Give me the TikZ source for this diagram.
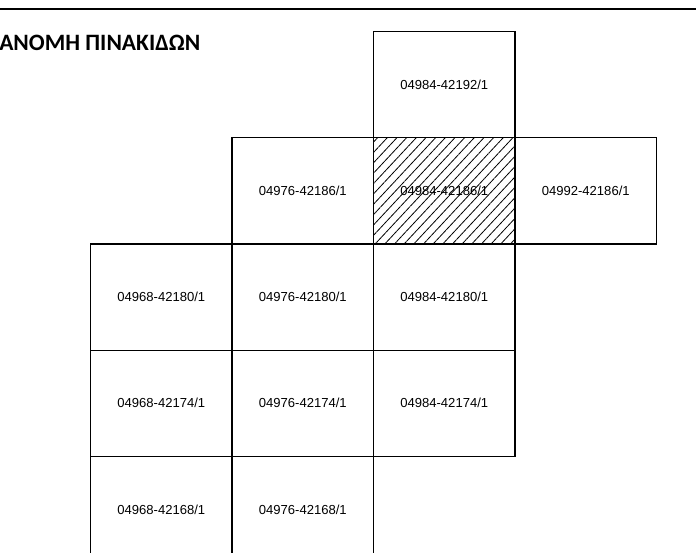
\documentclass[tikz,border=0pt]{standalone}
\usepackage{fontspec}
\setmainfont{Liberation Sans}
\newfontfamily\titlefont{Carlito}
\usetikzlibrary{positioning,patterns.meta}

\begin{document}
\begin{tikzpicture}[
  x=0.75pt, y=-0.75pt,
  font=\fontsize{9.8}{11}\selectfont,
  sheet/.style={draw, line width=0.9pt, minimum width=106.1pt, minimum height=79.65pt,
    inner sep=0pt, outer sep=0pt, anchor=center},
  hatched/.style={pattern={Lines[angle=47, distance=5.3pt, line width=0.6pt]}},
]
  \useasboundingbox (0,0) rectangle (696,553);
  \clip (0,0) rectangle (696,553);
  % header rule and title
  \draw[line width=1.3pt] (0,9) -- (696,9);
  \node[anchor=base west, inner sep=0pt, font=\titlefont\bfseries\fontsize{17.6}{19}\selectfont]
    (title) at (-1,50.5) {ΑΝΟΜΗ ΠΙΝΑΚΙΔΩΝ};
  % sheet index grid
  \node[sheet] (s84x92) at (444.25,84.6) {04984-42192/1};
  \node[sheet, hatched, below=0pt of s84x92] (s84x86) {04984-42186/1};
  \node[sheet, left=0pt of s84x86] (s76x86) {04976-42186/1};
  \node[sheet, right=0pt of s84x86] (s92x86) {04992-42186/1};
  \node[sheet, below=0pt of s84x86] (s84x80) {04984-42180/1};
  \node[sheet, left=0pt of s84x80] (s76x80) {04976-42180/1};
  \node[sheet, left=0pt of s76x80] (s68x80) {04968-42180/1};
  \node[sheet, below=0pt of s84x80] (s84x74) {04984-42174/1};
  \node[sheet, left=0pt of s84x74] (s76x74) {04976-42174/1};
  \node[sheet, left=0pt of s76x74] (s68x74) {04968-42174/1};
  \node[sheet, below=0pt of s76x74] (s76x68) {04976-42168/1};
  \node[sheet, left=0pt of s76x68] (s68x68) {04968-42168/1};
\end{tikzpicture}
\end{document}
